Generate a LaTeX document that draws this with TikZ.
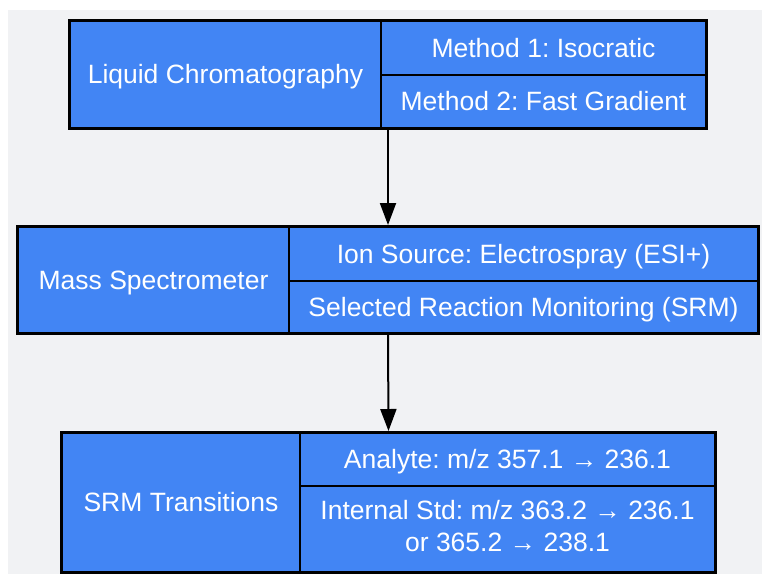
\documentclass[tikz,border=0pt]{standalone}
\usepackage{fontspec}
\setmainfont{Liberation Sans}
\usetikzlibrary{arrows.meta}
\usetikzlibrary{fit}
\frenchspacing

\definecolor{cellblue}{HTML}{4285F4}
\definecolor{canvasgrey}{HTML}{F1F2F4}
\newcommand{\cellstrut}{\rule[-6.8pt]{0pt}{32pt}}

\begin{document}
\begin{tikzpicture}[
    x=1pt, y=-1pt,
    cell/.style={draw=black, line width=2pt, fill=cellblue, text=white,
        inner sep=0pt, align=center, font=\fontsize{26.5}{32}\selectfont,
        execute at begin node={\cellstrut}, execute at end node={\cellstrut}},
    group/.style={draw=black, line width=2pt, inner sep=0pt},
    flow/.style={-{Triangle[length=22pt,width=16pt]}, line width=2pt}
]
    \useasboundingbox (0,0) rectangle (762,574);
    \fill[canvasgrey] (8,10) rectangle (762,574);

    % Liquid chromatography with its two methods
    \node[cell, minimum width=311pt, minimum height=107pt] (lc) at (225.5,74.5) {Liquid Chromatography};
    \node[cell, minimum width=325pt, minimum height=54pt] (lcA) at (543.5,48) {Method 1: Isocratic};
    \node[cell, minimum width=325pt, minimum height=53pt] (lcB) at (543.5,101.5) {Method 2: Fast Gradient};
    \node[group, fit=(lc)(lcA)(lcB)] (lcbox) {};

    % Mass spectrometer
    \node[cell, minimum width=271pt, minimum height=106pt] (ms) at (153.5,280) {Mass Spectrometer};
    \node[cell, minimum width=469pt, minimum height=54pt] (msA) at (523.5,254) {Ion Source: Electrospray (ESI+)};
    \node[cell, minimum width=469pt, minimum height=52pt] (msB) at (523.5,307) {Selected Reaction Monitoring (SRM)};
    \node[group, fit=(ms)(msA)(msB)] (msbox) {};

    % SRM transitions
    \node[cell, minimum width=238pt, minimum height=139pt] (srm) at (181,502.5) {SRM Transitions};
    \node[cell, minimum width=415pt, minimum height=53pt] (srmA) at (507.5,459.5) {Analyte: m/z 357.1 → 236.1};
    \node[cell, minimum width=415pt, minimum height=86pt] (srmB) at (507.5,529) {Internal Std: m/z 363.2 → 236.1\\or 365.2 → 238.1};
    \node[group, fit=(srm)(srmA)(srmB)] (srmbox) {};

    \draw[flow] (lcbox.south) -- (msbox.north);
    \draw[flow] (msbox.south) -- (srmbox.north);
\end{tikzpicture}
\end{document}
